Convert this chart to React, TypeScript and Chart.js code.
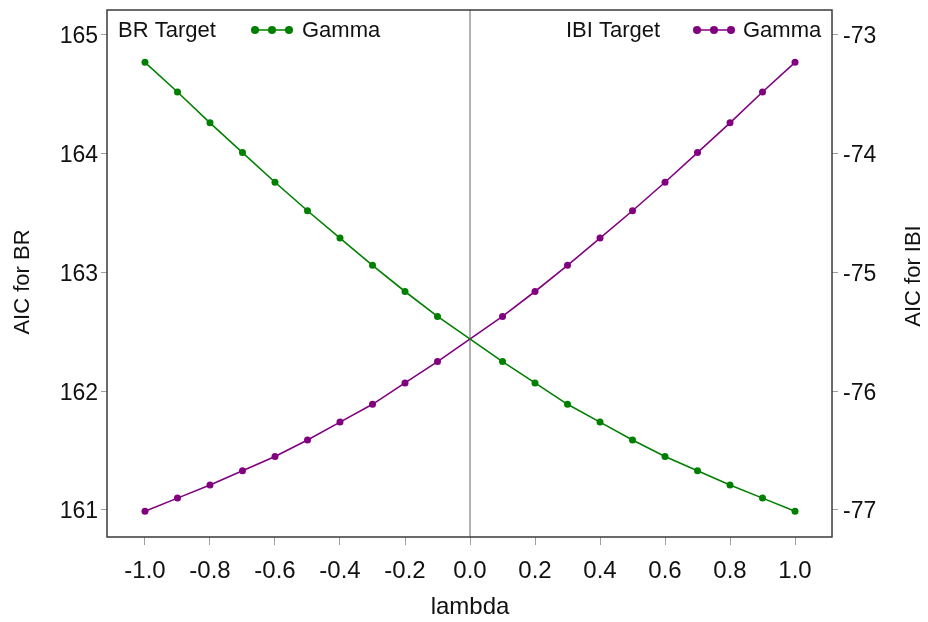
import React, { useEffect, useRef } from "react";
import { Chart, registerables } from "chart.js";

Chart.register(...registerables);

const lambdas = [-1.0, -0.9, -0.8, -0.7, -0.6, -0.5, -0.4, -0.3, -0.2, -0.1, 0.0, 0.1, 0.2, 0.3, 0.4, 0.5, 0.6, 0.7, 0.8, 0.9, 1.0];
const brAIC = [164.77, 164.52, 164.26, 164.01, 163.76, 163.52, 163.29, 163.06, 162.84, 162.63, null, 162.25, 162.07, 161.89, 161.74, 161.59, 161.45, 161.33, 161.21, 161.1, 160.99];
const ibiAIC = [-77.01, -76.9, -76.79, -76.67, -76.55, -76.41, -76.26, -76.11, -75.93, -75.75, null, -75.37, -75.16, -74.94, -74.71, -74.48, -74.24, -73.99, -73.74, -73.48, -73.23];

const xTicks = [-1.0, -0.8, -0.6, -0.4, -0.2, 0.0, 0.2, 0.4, 0.6, 0.8, 1.0];
const brTicks = [161, 162, 163, 164, 165];
const ibiTicks = [-77, -76, -75, -74, -73];

const GREEN = "#008000";
const PURPLE = "#800080";
const FONT = "'Liberation Sans', Arial, sans-serif";
const TEXT = "#111111";

export default function App() {
  const ref = useRef<HTMLCanvasElement | null>(null);

  useEffect(() => {
    document.body.style.margin = "0";
    const canvas = ref.current!;

    const overlay = {
      id: "overlay",
      beforeDatasetsDraw(chart: any) {
        const { ctx, chartArea, scales } = chart;
        const x0 = scales.x.getPixelForValue(0);
        ctx.save();
        ctx.strokeStyle = "#9a9a9a";
        ctx.lineWidth = 1.5;
        ctx.beginPath();
        ctx.moveTo(x0, chartArea.top);
        ctx.lineTo(x0, chartArea.bottom);
        ctx.stroke();
        ctx.restore();
      },
      afterDraw(chart: any) {
        const { ctx, chartArea } = chart;
        ctx.save();
        ctx.strokeStyle = "#3a3a3a";
        ctx.lineWidth = 1.5;
        ctx.strokeRect(chartArea.left, chartArea.top, chartArea.right - chartArea.left, chartArea.bottom - chartArea.top);

        ctx.font = `22px ${FONT}`;
        ctx.textBaseline = "middle";
        ctx.textAlign = "left";
        const drawLegend = (label: string, lx: number, mx0: number, mx1: number, gx: number, color: string) => {
          ctx.fillStyle = TEXT;
          ctx.fillText(label, lx, 31);
          ctx.strokeStyle = color;
          ctx.lineWidth = 1.5;
          ctx.beginPath();
          ctx.moveTo(mx0, 30);
          ctx.lineTo(mx1, 30);
          ctx.stroke();
          ctx.fillStyle = color;
          [mx0, (mx0 + mx1) / 2, mx1].forEach((px) => {
            ctx.beginPath();
            ctx.arc(px, 30, 4, 0, Math.PI * 2);
            ctx.fill();
          });
          ctx.fillStyle = TEXT;
          ctx.fillText("Gamma", gx, 31);
        };
        drawLegend("BR Target", 118, 255, 289, 302, GREEN);
        drawLegend("IBI Target", 566, 697, 731, 743, PURPLE);

        ctx.fillStyle = TEXT;
        ctx.textAlign = "center";
        ctx.textBaseline = "middle";
        ctx.font = `24px ${FONT}`;
        ctx.fillText("lambda", 470, 607);
        ctx.font = `22px ${FONT}`;
        ctx.save();
        ctx.translate(23, 282);
        ctx.rotate(-Math.PI / 2);
        ctx.fillText("AIC for BR", 0, 0);
        ctx.restore();
        ctx.save();
        ctx.translate(914, 276);
        ctx.rotate(-Math.PI / 2);
        ctx.fillText("AIC for IBI", 0, 0);
        ctx.restore();
        ctx.restore();
      },
    };

    const yFont = { family: FONT, size: 23 };
    const xFont = { family: FONT, size: 24 };

    const chart = new Chart(canvas, {
      type: "line",
      data: {
        datasets: [
          {
            label: "BR Target Gamma",
            data: lambdas.map((l, i) => ({ x: l, y: brAIC[i] })) as any,
            yAxisID: "yL",
            borderColor: GREEN,
            backgroundColor: GREEN,
            borderWidth: 1.6,
            pointRadius: 3.5,
            pointBorderWidth: 0,
            pointBackgroundColor: GREEN,
            spanGaps: true,
            tension: 0,
          },
          {
            label: "IBI Target Gamma",
            data: lambdas.map((l, i) => ({ x: l, y: ibiAIC[i] })) as any,
            yAxisID: "yR",
            borderColor: PURPLE,
            backgroundColor: PURPLE,
            borderWidth: 1.6,
            pointRadius: 3.5,
            pointBorderWidth: 0,
            pointBackgroundColor: PURPLE,
            spanGaps: true,
            tension: 0,
          },
        ],
      },
      options: {
        animation: false,
        responsive: true,
        maintainAspectRatio: false,
        layout: { padding: { top: 10, left: 0, right: 0, bottom: 0 } },
        plugins: { legend: { display: false }, tooltip: { enabled: false } },
        scales: {
          x: {
            type: "linear",
            min: -1.1169,
            max: 1.1138,
            afterBuildTicks: (s: any) => {
              s.ticks = xTicks.map((v) => ({ value: v }));
            },
            afterFit: (s: any) => {
              s.height = 85;
              s.paddingLeft = 0;
              s.paddingRight = 0;
            },
            grid: { drawOnChartArea: false, drawTicks: true, tickLength: 8, tickColor: "#a0a0a0", tickWidth: 1 },
            border: { display: false },
            ticks: {
              font: xFont,
              color: TEXT,
              padding: 12,
              maxRotation: 0,
              autoSkip: false,
              callback: (v: any) => Number(v).toFixed(1),
            },
          },
          yL: {
            type: "linear",
            position: "left",
            min: 160.7726,
            max: 165.2105,
            afterBuildTicks: (s: any) => {
              s.ticks = brTicks.map((v) => ({ value: v }));
            },
            afterFit: (s: any) => {
              s.width = 107;
              s.paddingTop = 0;
              s.paddingBottom = 0;
            },
            grid: { drawOnChartArea: false, drawTicks: true, tickLength: 6, tickColor: "#a0a0a0", tickWidth: 1 },
            border: { display: false },
            ticks: { font: yFont, color: TEXT, padding: 3, labelOffset: 2, autoSkip: false, callback: (v: any) => String(v) },
          },
          yR: {
            type: "linear",
            position: "right",
            min: -77.2274,
            max: -72.7895,
            afterBuildTicks: (s: any) => {
              s.ticks = ibiTicks.map((v) => ({ value: v }));
            },
            afterFit: (s: any) => {
              s.width = 96;
              s.paddingTop = 0;
              s.paddingBottom = 0;
            },
            grid: { drawOnChartArea: false, drawTicks: true, tickLength: 6, tickColor: "#a0a0a0", tickWidth: 1 },
            border: { display: false },
            ticks: { font: yFont, color: TEXT, padding: 5, labelOffset: 2, autoSkip: false, callback: (v: any) => String(v) },
          },
        },
      },
      plugins: [overlay],
    });

    return () => chart.destroy();
  }, []);

  return (
    <div style={{ position: "absolute", left: 0, top: 0, width: 928, height: 622, background: "#ffffff" }}>
      <canvas ref={ref} />
    </div>
  );
}
